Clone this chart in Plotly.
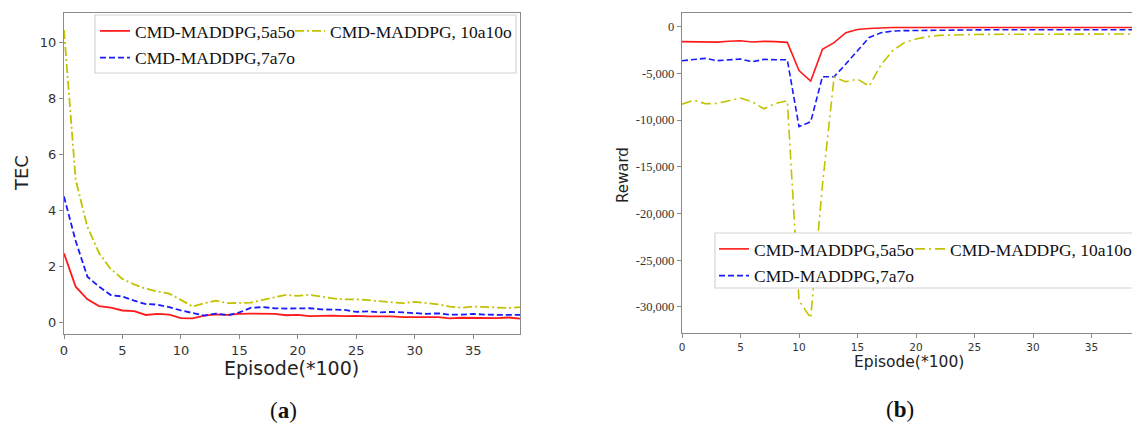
import plotly.graph_objects as go

W, H = 1132, 426

episodes = list(range(40))
series_names = ["CMD-MADDPG,5a5o", "CMD-MADDPG,7a7o", "CMD-MADDPG, 10a10o"]

tec_5a5o = [2.46, 1.27, 0.82, 0.58, 0.52, 0.42, 0.40, 0.26, 0.30, 0.27, 0.15, 0.14, 0.24, 0.28, 0.26,
            0.30, 0.31, 0.31, 0.30, 0.25, 0.26, 0.22, 0.24, 0.24, 0.22, 0.23, 0.21, 0.22, 0.21, 0.18,
            0.19, 0.18, 0.18, 0.14, 0.16, 0.15, 0.15, 0.15, 0.17, 0.13]
tec_7a7o = [4.49, 2.90, 1.63, 1.27, 0.97, 0.92, 0.77, 0.65, 0.63, 0.54, 0.42, 0.32, 0.24, 0.31, 0.25,
            0.35, 0.52, 0.54, 0.50, 0.49, 0.49, 0.50, 0.46, 0.45, 0.44, 0.37, 0.39, 0.35, 0.37, 0.35,
            0.32, 0.30, 0.32, 0.27, 0.27, 0.30, 0.27, 0.26, 0.26, 0.26]
tec_10a10o = [10.44, 5.08, 3.41, 2.47, 1.90, 1.55, 1.35, 1.20, 1.10, 1.02, 0.80, 0.56, 0.68, 0.77, 0.68,
              0.70, 0.70, 0.80, 0.89, 0.98, 0.94, 0.98, 0.92, 0.85, 0.82, 0.82, 0.79, 0.75, 0.70, 0.68,
              0.73, 0.68, 0.64, 0.56, 0.52, 0.56, 0.54, 0.51, 0.51, 0.54]

reward_5a5o = [-1600, -1620, -1680, -1650, -1560, -1500, -1640, -1570, -1600, -1680, -4700, -5820,
               -2430, -1700, -640, -300, -200, -120, -90, -80, -80, -80, -80, -80, -80, -80, -80, -80,
               -80, -80, -80, -80, -80, -80, -80, -80, -80, -80, -80, -80]
reward_7a7o = [-3640, -3500, -3390, -3640, -3530, -3460, -3750, -3500, -3540, -3540, -10700, -10180,
               -5360, -5360, -4000, -2600, -1150, -650, -470, -420, -400, -380, -360, -350, -340, -330,
               -320, -320, -320, -320, -320, -320, -320, -320, -320, -320, -320, -320, -320, -320]
reward_10a10o = [-8290, -7860, -8250, -8210, -7930, -7640, -8040, -8790, -8210, -7930, -29300, -31200,
                 -17000, -5400, -5890, -5610, -6360, -4100, -2570, -1710, -1320, -1070, -930, -880, -850,
                 -830, -820, -810, -810, -800, -800, -800, -790, -790, -790, -780, -780, -780, -780, -780]

tec_ticks = [0, 2, 4, 6, 8, 10]
episode_ticks = [0, 5, 10, 15, 20, 25, 30, 35]
reward_ticks = [0, -5000, -10000, -15000, -20000, -25000, -30000]
reward_ticklabels = ["0", "-5,000", "-10,000", "-15,000", "-20,000", "-25,000", "-30,000"]

colors = ["#ff1a1a", "#1a1aff", "#c2c200"]
dashes_a = ["solid", "6px,3px", "9px,3px,2px,3px"]
dashes_b = ["solid", "6px,3px", "10px,4px,2px,4px"]


def px(x):
    return x / W


def py(y):
    return 1 - y / H


fig = go.Figure()

tec_series = [tec_5a5o, tec_7a7o, tec_10a10o]
rew_series = [reward_5a5o, reward_7a7o, reward_10a10o]
legend_a = ["legend", "legend", "legend2"]
legend_b = ["legend3", "legend3", "legend4"]

for i, (name, ys) in enumerate(zip(series_names, tec_series)):
    fig.add_trace(go.Scatter(
        x=episodes, y=ys, mode="lines", name=name, xaxis="x", yaxis="y",
        line=dict(color=colors[i], width=1.8, dash=dashes_a[i]),
        legend=legend_a[i], legendgroup="a%d" % i, showlegend=True))

for i, (name, ys) in enumerate(zip(series_names, rew_series)):
    fig.add_trace(go.Scatter(
        x=episodes, y=ys, mode="lines", name=name, xaxis="x2", yaxis="y2",
        line=dict(color=colors[i], width=1.6, dash=dashes_b[i]),
        legend=legend_b[i], legendgroup="b%d" % i, showlegend=True))

frame = "#8a8a8a"
sans = "DejaVu Sans"
serif = "Liberation Serif"

common_axis = dict(showgrid=False, zeroline=False, showline=True, linecolor=frame, linewidth=1.3,
                   ticks="outside", ticklen=4, tickcolor=frame, tickwidth=1, automargin=False)

legend_common = dict(bgcolor="rgba(0,0,0,0)", borderwidth=0, xanchor="left", yanchor="top",
                     font=dict(family=serif, size=17.5, color="#111"), tracegroupgap=1,
                     orientation="v", itemwidth=30)

fig.update_layout(
    width=W, height=H, margin=dict(l=0, r=0, t=0, b=0, autoexpand=False),
    paper_bgcolor="white", plot_bgcolor="white",
    xaxis=dict(domain=[px(64), px(520)], range=[0, 39], anchor="y", mirror=True,
               tickvals=episode_ticks, tickfont=dict(family=sans, size=13, color="#333"),
               **common_axis),
    yaxis=dict(domain=[py(334), py(13.3)], range=[-0.42, 11.04], anchor="x", mirror=True,
               tickvals=tec_ticks, tickfont=dict(family=sans, size=13, color="#333"),
               **common_axis),
    xaxis2=dict(domain=[px(682), 1.0], range=[0, (W - 682) / 11.7], anchor="y2", mirror=True,
                tickvals=episode_ticks, tickfont=dict(family=sans, size=10.5, color="#333"),
                **common_axis),
    yaxis2=dict(domain=[py(333), py(13.3)], range=[-32794, 1435], anchor="x2", mirror=False,
                tickvals=reward_ticks, ticktext=reward_ticklabels,
                tickfont=dict(family=serif, size=12.5, color="#333"),
                **common_axis),
    legend=dict(x=px(95), y=py(13), **legend_common),
    legend2=dict(x=px(290), y=py(13), **legend_common),
    legend3=dict(x=px(714), y=py(231), **legend_common),
    legend4=dict(x=px(910), y=py(231), **legend_common),
    showlegend=True,
)

shapes = [
    dict(type="rect", xref="paper", yref="paper", x0=px(95), x1=px(516), y0=py(73), y1=py(15),
         fillcolor="white", line=dict(color="#d4d4d4", width=1.2), layer="above"),
    dict(type="rect", xref="paper", yref="paper", x0=px(715), x1=px(1140), y0=py(288), y1=py(233),
         fillcolor="white", line=dict(color="#d4d4d4", width=1.2), layer="above"),
]
fig.update_layout(shapes=shapes)

annotations = [
    dict(text="TEC", x=px(21), y=py(173), textangle=-90, font=dict(family=sans, size=18, color="#222")),
    dict(text="Episode(*100)", x=px(291), y=py(368), font=dict(family=sans, size=19, color="#222")),
    dict(text="Reward", x=px(623), y=py(175), textangle=-90, font=dict(family=sans, size=15, color="#222")),
    dict(text="Episode(*100)", x=px(909), y=py(362), font=dict(family=sans, size=15.5, color="#222")),
    dict(text="(<b>a</b>)", x=px(283), y=py(410), font=dict(family=serif, size=23, color="#111")),
    dict(text="(<b>b</b>)", x=px(900), y=py(409), font=dict(family=serif, size=23, color="#111")),
]
for a in annotations:
    a.update(xref="paper", yref="paper", showarrow=False, xanchor="center", yanchor="middle")
fig.update_layout(annotations=annotations)

fig.write_html("out.html", config={"displayModeBar": False},
               post_script="document.body.style.margin='0';document.body.style.overflow='hidden';")
